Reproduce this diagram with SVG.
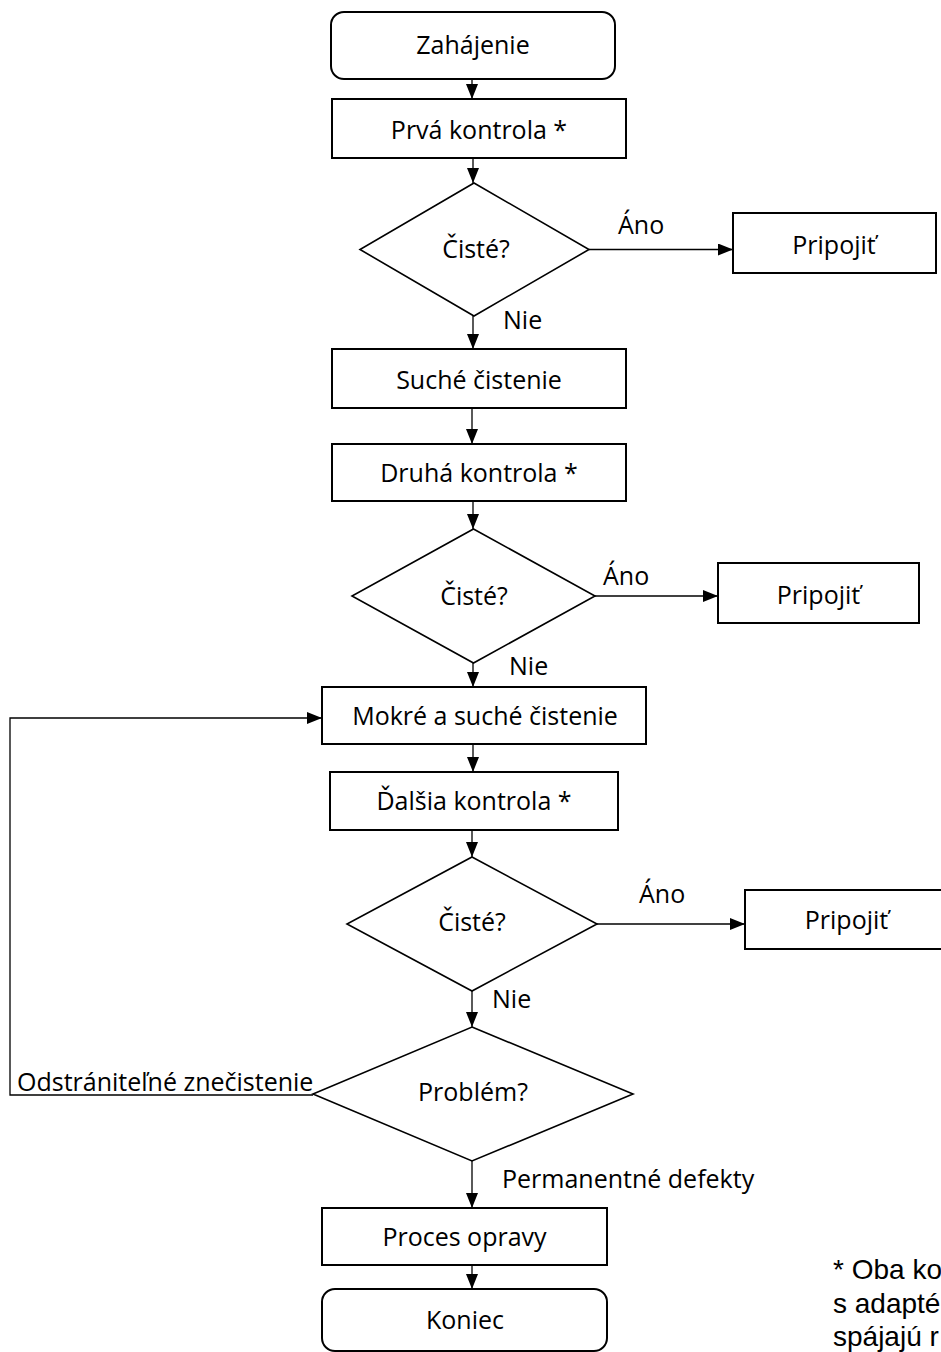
<svg xmlns="http://www.w3.org/2000/svg" width="941" height="1352" viewBox="0 0 941 1352">
<style>
.box{fill:#fff;stroke:#000;stroke-width:2}
.dia{fill:#fff;stroke:#000;stroke-width:1.6}
.t{font-family:"Open Sans","Noto Sans",sans-serif;font-size:25px;fill:#000;text-anchor:middle}
.l{font-family:"Open Sans","Noto Sans",sans-serif;font-size:25px;fill:#000}
.note{font-family:"Liberation Sans",Arial,sans-serif;font-size:28px;fill:#000}
.c{fill:none;stroke:#000;stroke-width:1.3}
</style>
<defs>
<marker id="ah" markerUnits="userSpaceOnUse" markerWidth="15" markerHeight="12" refX="15" refY="6" orient="auto">
<path d="M0,0 L15,6 L0,12 z" fill="#000"/>
</marker>
</defs>
<rect width="941" height="1352" fill="#fff"/>
<g id="connectors">
<line class="c" x1="472" y1="79" x2="472" y2="99" marker-end="url(#ah)"/>
<line class="c" x1="473" y1="158" x2="473" y2="183" marker-end="url(#ah)"/>
<line class="c" x1="589" y1="249.5" x2="733" y2="249.5" marker-end="url(#ah)"/>
<line class="c" x1="473" y1="316" x2="473" y2="349" marker-end="url(#ah)"/>
<line class="c" x1="472" y1="408" x2="472" y2="444" marker-end="url(#ah)"/>
<line class="c" x1="473" y1="501" x2="473" y2="529" marker-end="url(#ah)"/>
<line class="c" x1="595" y1="596" x2="718" y2="596" marker-end="url(#ah)"/>
<line class="c" x1="473" y1="663" x2="473" y2="687" marker-end="url(#ah)"/>
<line class="c" x1="473" y1="744" x2="473" y2="772" marker-end="url(#ah)"/>
<line class="c" x1="472" y1="830" x2="472" y2="857" marker-end="url(#ah)"/>
<line class="c" x1="597" y1="924" x2="745" y2="924" marker-end="url(#ah)"/>
<line class="c" x1="472" y1="991" x2="472" y2="1027" marker-end="url(#ah)"/>
<polyline class="c" points="313,1095 10,1095 10,718 322,718" marker-end="url(#ah)"/>
<line class="c" x1="472" y1="1161" x2="472" y2="1208" marker-end="url(#ah)"/>
<line class="c" x1="472" y1="1265" x2="472" y2="1289" marker-end="url(#ah)"/>
<text class="l" x="618" y="234">Áno</text>
<text class="l" x="503" y="329">Nie</text>
<text class="l" x="603" y="585">Áno</text>
<text class="l" x="509" y="675">Nie</text>
<text class="l" x="639" y="903">Áno</text>
<text class="l" x="492" y="1008">Nie</text>
<text class="l" x="17" y="1091">Odstrániteľné znečistenie</text>
<text class="l" x="502" y="1188">Permanentné defekty</text>
</g>
<g id="start">
<rect class="box" x="331" y="12" width="284" height="67" rx="13"/>
<text class="t" x="473" y="54">Zahájenie</text>
</g>
<g id="check1">
<rect class="box" x="332" y="99" width="294" height="59"/>
<text class="t" x="479" y="139">Prvá kontrola *</text>
</g>
<g id="dec1">
<polygon class="dia" points="474,183 589,249.5 474,316 360,249.5"/>
<text class="t" x="476" y="258">Čisté?</text>
</g>
<g id="connect1">
<rect class="box" x="733" y="213" width="203" height="60"/>
<text class="t" x="834" y="254">Pripojiť</text>
</g>
<g id="dry">
<rect class="box" x="332" y="349" width="294" height="59"/>
<text class="t" x="479" y="389">Suché čistenie</text>
</g>
<g id="check2">
<rect class="box" x="332" y="444" width="294" height="57"/>
<text class="t" x="479" y="482">Druhá kontrola *</text>
</g>
<g id="dec2">
<polygon class="dia" points="473.5,529 595,596 473.5,663 352,596"/>
<text class="t" x="474" y="605">Čisté?</text>
</g>
<g id="connect2">
<rect class="box" x="718" y="563" width="201" height="60"/>
<text class="t" x="818.5" y="604">Pripojiť</text>
</g>
<g id="wetdry">
<rect class="box" x="322" y="687" width="324" height="57"/>
<text class="t" x="485" y="725">Mokré a suché čistenie</text>
</g>
<g id="check3">
<rect class="box" x="330" y="772" width="288" height="58"/>
<text class="t" x="474" y="810">Ďalšia kontrola *</text>
</g>
<g id="dec3">
<polygon class="dia" points="472,857 597,924 472,991 347,924"/>
<text class="t" x="472" y="931">Čisté?</text>
</g>
<g id="connect3">
<rect class="box" x="745" y="890" width="203" height="59"/>
<text class="t" x="846.5" y="929">Pripojiť</text>
</g>
<g id="problem">
<polygon class="dia" points="472,1027 633,1094 472,1161 313,1094"/>
<text class="t" x="473" y="1101">Problém?</text>
</g>
<g id="repair">
<rect class="box" x="322" y="1208" width="285" height="57"/>
<text class="t" x="464.5" y="1246">Proces opravy</text>
</g>
<g id="end">
<rect class="box" x="322" y="1289" width="285" height="62" rx="13"/>
<text class="t" x="465" y="1329">Koniec</text>
</g>
<g id="footnote">
<text class="note" x="833" y="1279">* Oba ko</text>
<text class="note" x="833" y="1313">s adapté</text>
<text class="note" x="833" y="1346">spájajú r</text>
</g>
</svg>
